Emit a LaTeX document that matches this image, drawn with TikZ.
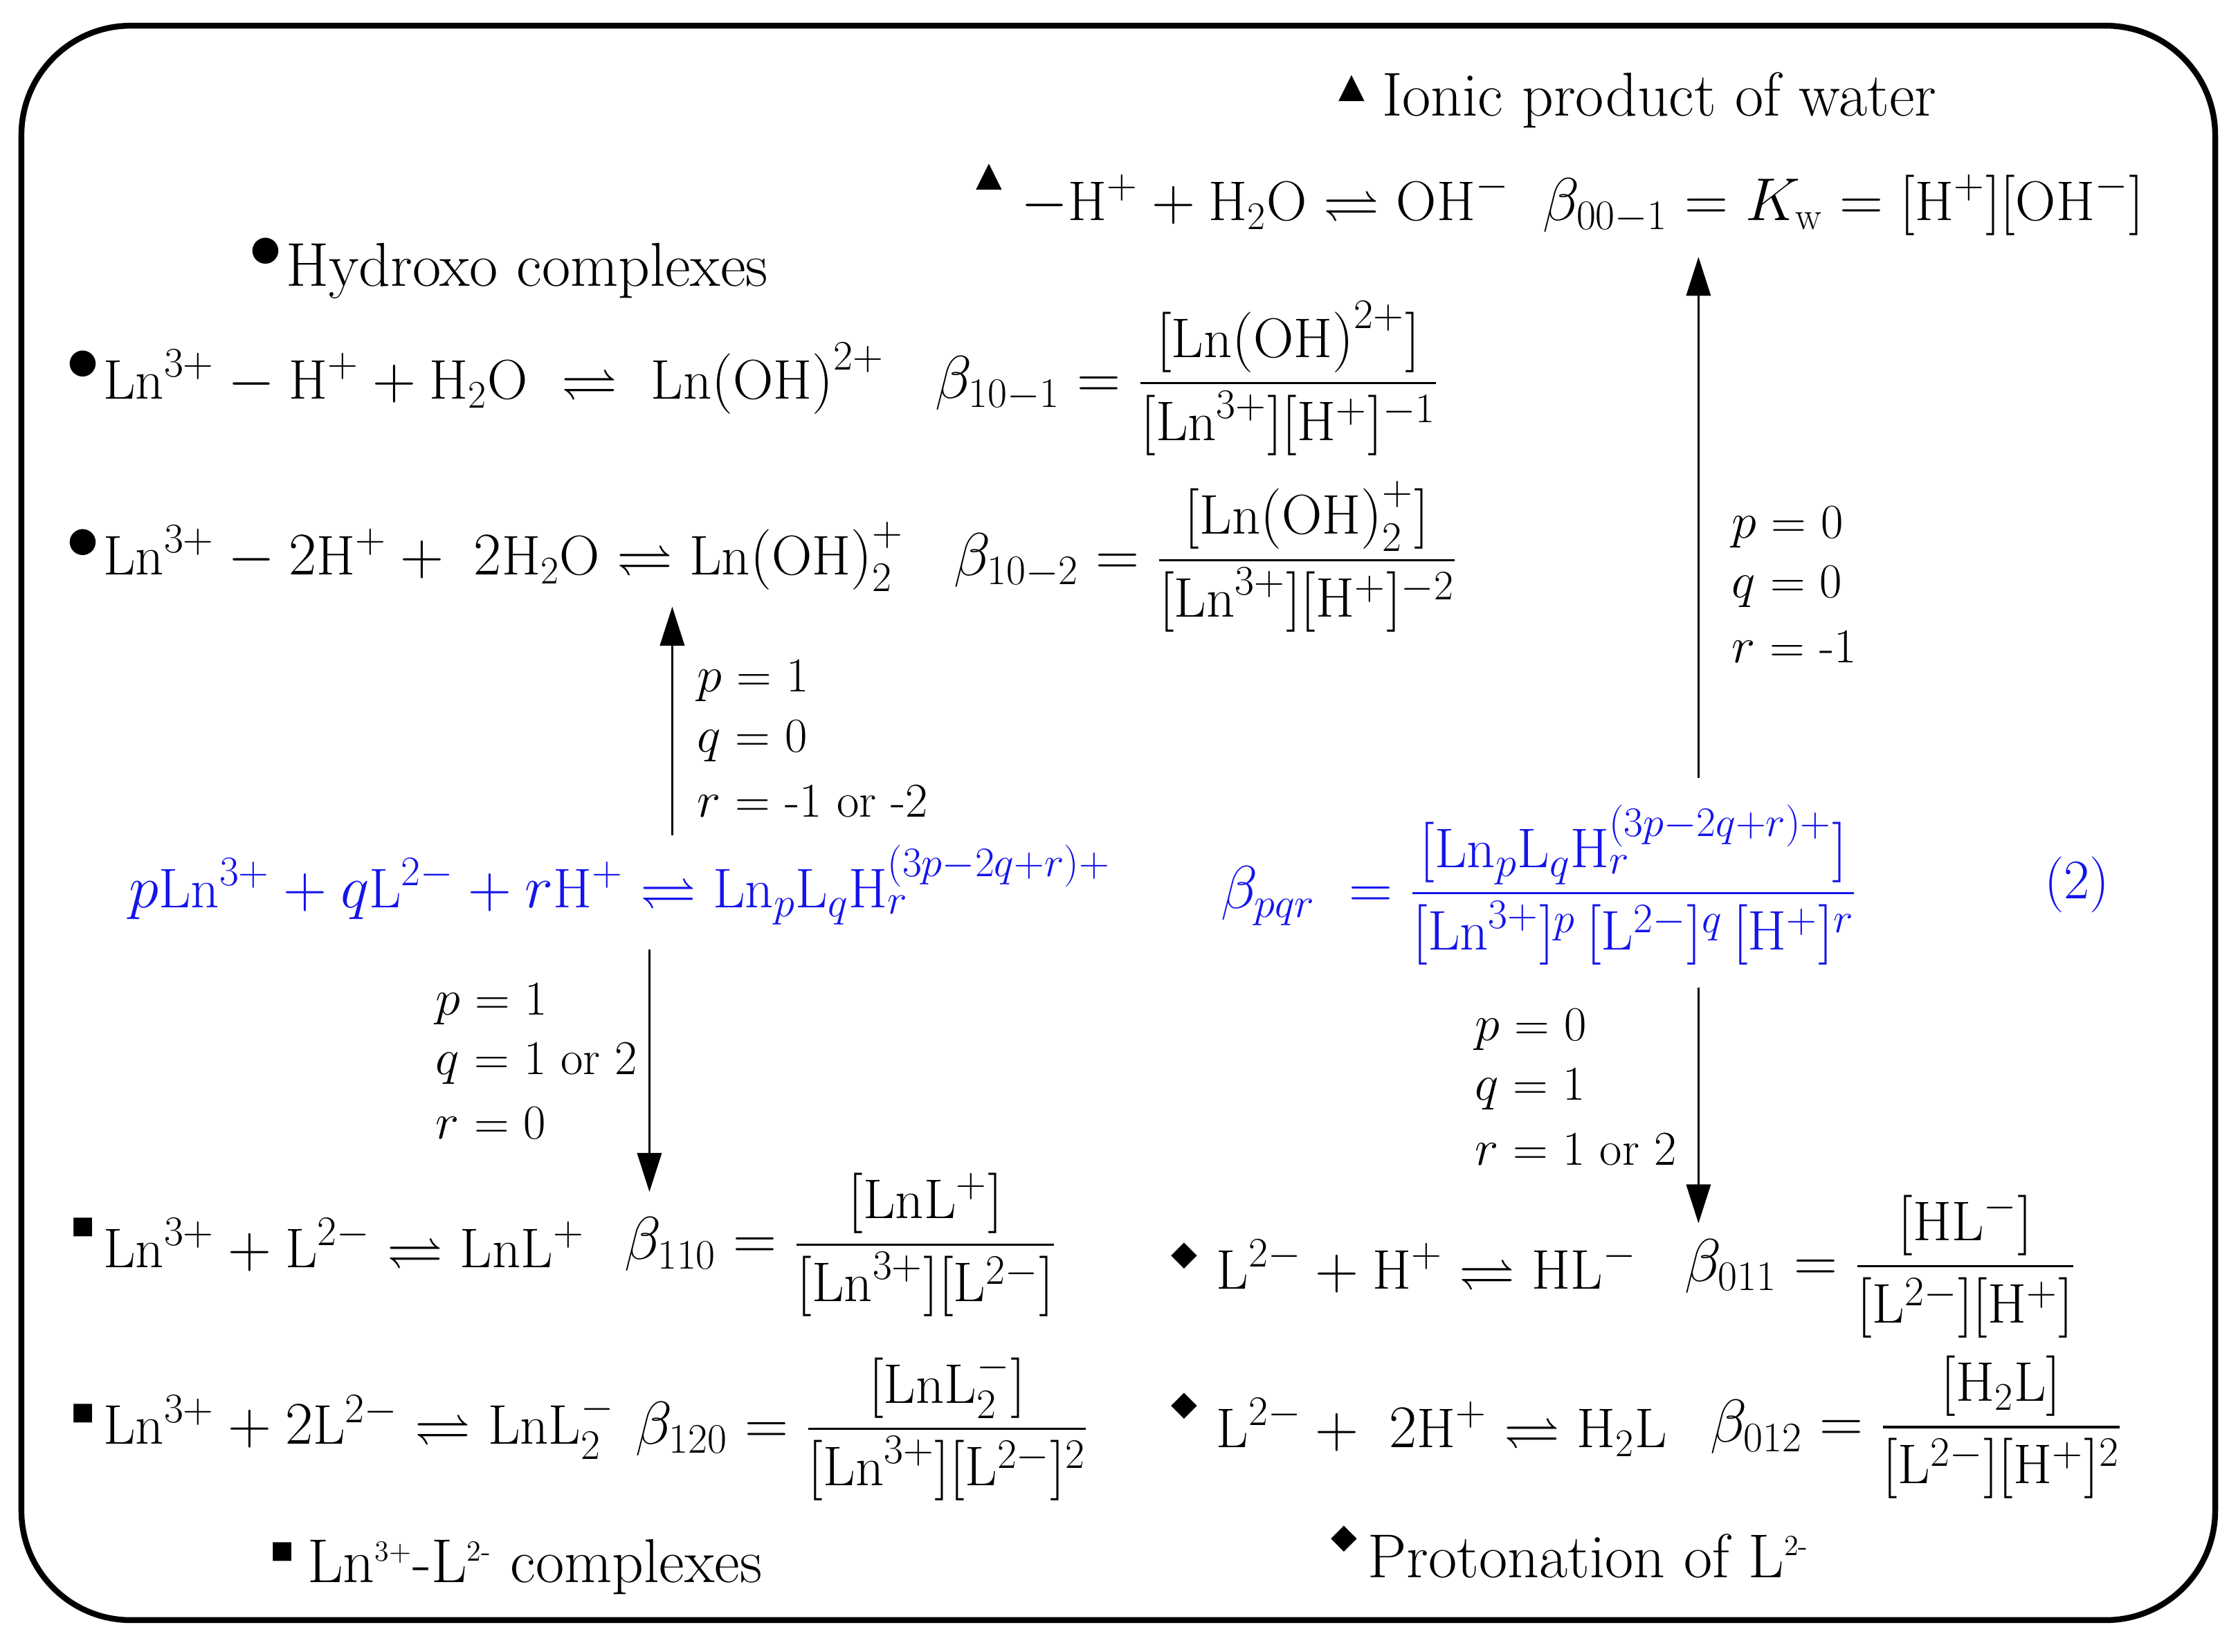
\documentclass[tikz,border=0pt]{standalone}
\usepackage{amsmath,amssymb}
\usepackage{fontspec}
\newfontfamily\symf{DejaVu Sans}
\usetikzlibrary{arrows.meta}
\definecolor{eqblue}{RGB}{20,20,235}
\newcommand{\rx}{\rightleftharpoons}
\tikzset{
  txt/.style={anchor=west,inner sep=0pt,font=\fontsize{23}{27}\selectfont},
  ttl/.style={anchor=west,inner sep=0pt,font=\fontsize{25.5}{30}\selectfont},
  lbl/.style={anchor=west,inner sep=0pt,font=\fontsize{20}{24}\selectfont},
  arr/.style={line width=0.9pt,-{Triangle[length=16pt,width=10pt]}},
  sym/.style={inner sep=0pt,font=\symf\fontsize{14}{16}\selectfont},
  sq/.style={inner sep=0pt,font=\symf\fontsize{10}{12}\selectfont},
}
\begin{document}
\begin{tikzpicture}[x=0.020625cm,y=-0.020625cm]
\useasboundingbox (0,0) rectangle (1568,1157);
\draw[line width=2.4pt,rounded corners=45] (15,18) rectangle (1552,1135);
% water
\node[sym] (tri0) at (947,62) {▲};
\node[ttl] (wt) at (968,70) {Ionic product of water};
\node[sym] (tri1) at (693,124) {▲};
\node[txt] (weq) at (715,143) {$-\mathrm{H}^+ + \mathrm{H_2O} \rx \mathrm{OH}^-\;\; \beta_{00-1} = K_\mathrm{w} = [\mathrm{H}^+][\mathrm{OH}^-]$};
% hydroxo
\node[sym] (c0) at (186,176) {●};
\node[ttl] (ht) at (200,190) {Hydroxo complexes};
\node[sym] (c1) at (58,255) {●};
\node[txt] (h1) at (72,265) {$\mathrm{Ln}^{3+} - \mathrm{H}^+ + \mathrm{H_2O}\ \rx\ \mathrm{Ln(OH)}^{2+}$};
\node[txt] (h1b) at (655,265) {$\beta_{10-1} = \dfrac{[\mathrm{Ln(OH)}^{2+}]}{[\mathrm{Ln}^{3+}][\mathrm{H}^+]^{-1}}$};
\node[sym] (c2) at (58,380) {●};
\node[txt] (h2) at (72,390) {$\mathrm{Ln}^{3+} - 2\mathrm{H}^+ +\ 2\mathrm{H_2O} \rx \mathrm{Ln(OH)}_2^+$};
\node[txt] (h2b) at (668,390) {$\beta_{10-2} = \dfrac{[\mathrm{Ln(OH)}_2^+]}{[\mathrm{Ln}^{3+}][\mathrm{H}^+]^{-2}}$};
% general
\node[txt,text=eqblue] (g) at (90,620) {$p\mathrm{Ln}^{3+} + q\mathrm{L}^{2-} + r\mathrm{H}^+ \rx \mathrm{Ln}_p\mathrm{L}_q\mathrm{H}_r^{(3p-2q+r)+}$};
\node[txt,text=eqblue] (gb) at (855,620) {$\beta_{pqr}\ = \dfrac{[\mathrm{Ln}_p\mathrm{L}_q\mathrm{H}_r^{(3p-2q+r)+}]}{[\mathrm{Ln}^{3+}]^p\,[\mathrm{L}^{2-}]^q\,[\mathrm{H}^+]^r}$};
\node[txt,text=eqblue] (n2) at (1432,620) {(2)};
% arrows
\coordinate (a1s) at (471,585); \coordinate (a1e) at (471,425);
\draw[arr] (a1s) -- (a1e);
\node[lbl] at (488,477) {$p$ = 1};
\node[lbl] at (488,519) {$q$ = 0};
\node[lbl] at (488,561) {$r$ = -1 or -2};
\coordinate (a2s) at (1190,545); \coordinate (a2e) at (1190,180);
\draw[arr] (a2s) -- (a2e);
\node[lbl] at (1213,369) {$p$ = 0};
\node[lbl] at (1213,411) {$q$ = 0};
\node[lbl] at (1213,453) {$r$ = -1};
\coordinate (a3s) at (455,665); \coordinate (a3e) at (455,835);
\draw[arr] (a3s) -- (a3e);
\node[lbl] at (305,703) {$p$ = 1};
\node[lbl] at (305,745) {$q$ = 1 or 2};
\node[lbl] at (305,787) {$r$ = 0};
\coordinate (a4s) at (1190,692); \coordinate (a4e) at (1190,857);
\draw[arr] (a4s) -- (a4e);
\node[lbl] at (1033,721) {$p$ = 0};
\node[lbl] at (1033,763) {$q$ = 1};
\node[lbl] at (1033,805) {$r$ = 1 or 2};
% complexes
\node[sq] (s1) at (58,860) {■};
\node[txt] (l1) at (72,872) {$\mathrm{Ln}^{3+} + \mathrm{L}^{2-} \rx \mathrm{LnL}^+$};
\node[txt] (l1b) at (437,872) {$\beta_{110} = \dfrac{[\mathrm{LnL}^+]}{[\mathrm{Ln}^{3+}][\mathrm{L}^{2-}]}$};
\node[sq] (s2) at (58,990) {■};
\node[txt] (l2) at (72,1000) {$\mathrm{Ln}^{3+} + 2\mathrm{L}^{2-} \rx \mathrm{LnL}_2^-$};
\node[txt] (l2b) at (445,1000) {$\beta_{120} = \dfrac{[\mathrm{LnL}_2^-]}{[\mathrm{Ln}^{3+}][\mathrm{L}^{2-}]^2}$};
\node[sq] (s3) at (198,1087) {■};
\node[ttl] (lt) at (215,1098) {Ln\textsuperscript{\fontsize{12}{12}\selectfont 3+}-L\textsuperscript{\fontsize{12}{12}\selectfont 2-} complexes};
% protonation
\node[sym] (d1) at (830,880) {◆};
\node[txt] (p1) at (852,887) {$\mathrm{L}^{2-} + \mathrm{H}^+ \rx \mathrm{HL}^-$};
\node[txt] (p1b) at (1180,887) {$\beta_{011} = \dfrac{[\mathrm{HL}^-]}{[\mathrm{L}^{2-}][\mathrm{H}^+]}$};
\node[sym] (d2) at (830,985) {◆};
\node[txt] (p2) at (852,1000) {$\mathrm{L}^{2-} +\ 2\mathrm{H}^+ \rx \mathrm{H_2L}$};
\node[txt] (p2b) at (1198,1000) {$\beta_{012} = \dfrac{[\mathrm{H_2L}]}{[\mathrm{L}^{2-}][\mathrm{H}^+]^2}$};
\node[sym] (d3) at (942,1078) {◆};
\node[ttl] (pt) at (958,1090) {Protonation of L\textsuperscript{\fontsize{12}{12}\selectfont 2-}};
\end{tikzpicture}
\end{document}
